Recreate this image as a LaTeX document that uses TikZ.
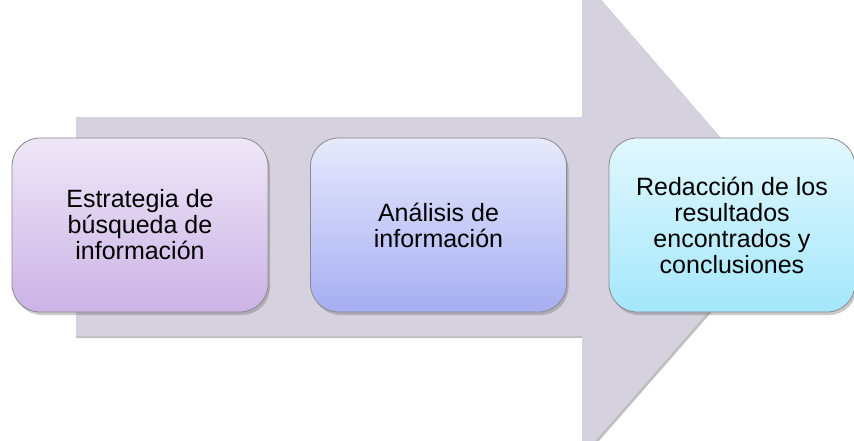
\documentclass[tikz,border=0pt]{standalone}
\usepackage{fontspec}
\setmainfont{Liberation Sans}
\usetikzlibrary{shadows}
\definecolor{arrowgray}{HTML}{D6D1DE}
\definecolor{boxedge}{HTML}{8A8A8A}
\definecolor{aTop}{HTML}{EEE7F7}
\definecolor{aBot}{HTML}{CBB3E6}
\definecolor{bTop}{HTML}{E7E9FC}
\definecolor{bBot}{HTML}{A6AEF2}
\definecolor{cTop}{HTML}{E1F8FE}
\definecolor{cBot}{HTML}{A4E7FB}
\tikzset{
  stepbox/.style={rounded corners=28pt, draw=boxedge, line width=0.8pt,
    minimum width=256pt, minimum height=174pt, align=center,
    font=\fontsize{25}{26}\selectfont, inner sep=0pt,
    drop shadow={shadow xshift=2pt, shadow yshift=-3pt, opacity=0.35, fill=black!60}},
}
\begin{document}
\begin{tikzpicture}[x=1pt,y=-1pt]
\useasboundingbox (0,0) rectangle (854,440);
\begin{scope}
\clip (0,0) rectangle (854,440);
\fill[black!25] (76,119) -- (584,119) -- (584,-20) -- (792,220) -- (584,458) -- (584,338) -- (76,338) -- cycle;
\fill[arrowgray] (76,117) -- (582,117) -- (582,-22) -- (790,218) -- (582,456) -- (582,336) -- (76,336) -- cycle;
\end{scope}
\node[stepbox, top color=aTop, bottom color=aBot] (s1) at (140,225) {Estrategia de\\búsqueda de\\información};
\node[stepbox, top color=bTop, bottom color=bBot] (s2) at (438.5,225) {Análisis de\\información};
\node[stepbox, minimum width=246pt, top color=cTop, bottom color=cBot] (s3) at (732,225) {Redacción de los\\resultados\\encontrados y\\conclusiones};
\end{tikzpicture}
\end{document}
